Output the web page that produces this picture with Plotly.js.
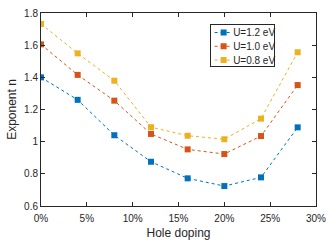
<!DOCTYPE html>
<html><head><meta charset="utf-8">
<script src="https://cdn.plot.ly/plotly-3.0.1.min.js"></script>
<style>html,body{margin:0;padding:0;background:#fff}#c{width:332px;height:249px}</style>
</head><body><div id="c"></div>
<script>
const doping = [0, 4, 8, 12, 16, 20, 24, 28];
const u12 = [1.40, 1.26, 1.04, 0.875, 0.772, 0.724, 0.778, 1.089];
const u10 = [1.605, 1.415, 1.255, 1.048, 0.952, 0.923, 1.035, 1.352];
const u08 = [1.732, 1.549, 1.379, 1.09, 1.037, 1.015, 1.143, 1.556];
const names = ['U=1.2 eV', 'U=1.0 eV', 'U=0.8 eV'];
const colors = ['#0072BD', '#D95319', '#EDB120'];
const xTicks = [0, 5, 10, 15, 20, 25, 30];
const yTicks = [0.6, 0.8, 1, 1.2, 1.4, 1.6, 1.8];
const series = [u12, u10, u08];
const traces = series.map((ys, i) => ({
  x: doping, y: ys, name: names[i], type: 'scatter', mode: 'lines+markers',
  line: {color: colors[i], width: 1, dash: '3px,3px'},
  marker: {symbol: 'square', size: 6, color: colors[i]}
}));
const fam = 'Liberation Sans, Arial, sans-serif';
const txtCol = '#262626';
const axisCommon = {showline: true, linecolor: txtCol, linewidth: 1, mirror: 'ticks', ticks: 'inside', ticklen: 4, tickcolor: txtCol, showgrid: false, zeroline: false, tickfont: {size: 10, family: fam, color: txtCol}};
const layout = {
  width: 332, height: 249,
  margin: {l: 41, r: 16, t: 13, b: 43},
  paper_bgcolor: '#fff', plot_bgcolor: '#fff',
  font: {family: fam, color: txtCol},
  showlegend: true,
  legend: {x: 0.615, y: 0.943, xanchor: 'left', yanchor: 'top', bordercolor: txtCol, borderwidth: 1, bgcolor: '#fff', font: {size: 10, family: fam, color: txtCol}, tracegroupgap: 0, itemwidth: 30},
  xaxis: Object.assign({}, axisCommon, {range: [0, 30], tickvals: xTicks, ticktext: xTicks.map(v => v + '%'), ticklabelstandoff: 3, title: {text: 'Hole doping', font: {size: 12, family: fam, color: txtCol}, standoff: 5}}),
  yaxis: Object.assign({}, axisCommon, {range: [0.6, 1.8], tickvals: yTicks, ticktext: yTicks.map(v => String(v)), title: {text: 'Exponent n', font: {size: 12, family: fam, color: txtCol}, standoff: 4}})
};
Plotly.newPlot('c', traces, layout, {staticPlot: true, displayModeBar: false}).then(gd => {
  // compact MATLAB-like legend box
  const leg = gd.querySelector('g.legend');
  if (!leg) return;
  const bg = leg.querySelector('rect.bg');
  if (bg) { bg.setAttribute('width', 64); bg.setAttribute('height', 42); }
  leg.querySelectorAll('g.traces').forEach((t, i) => {
    t.setAttribute('transform', 'translate(0.5,' + (8.5 + 13.8 * i) + ')');
    const txt = t.querySelector('text.legendtext');
    if (txt) txt.setAttribute('x', 22.5);
    t.querySelectorAll('g.legendlines path').forEach(p => p.setAttribute('d', 'M4,0h18'));
    t.querySelectorAll('path.scatterpts').forEach(p => p.setAttribute('transform', 'translate(13,0)'));
  });
});
</script></body></html>
